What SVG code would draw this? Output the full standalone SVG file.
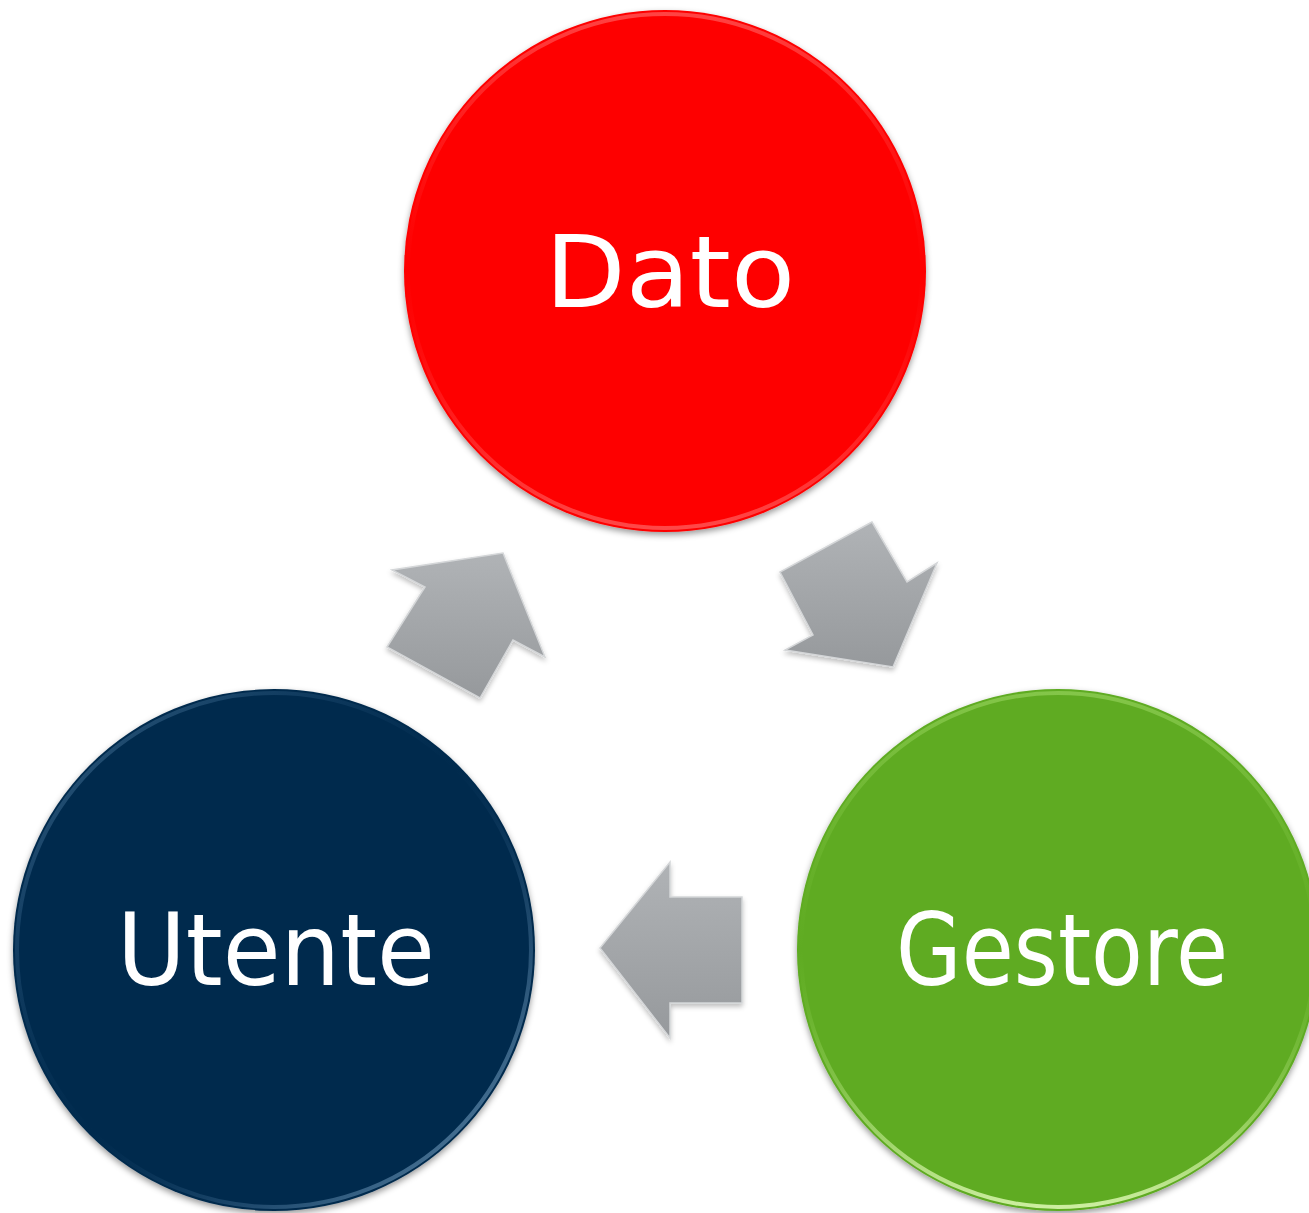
<svg xmlns="http://www.w3.org/2000/svg" width="1309" height="1213" viewBox="0 0 1309 1213">
<style>
.lbl{font-family:"DejaVu Sans","Verdana",sans-serif;font-size:100px;fill:#ffffff;text-anchor:middle}
.arrow{fill:url(#gray);stroke:#d4d6d8;stroke-width:1.5;stroke-linejoin:miter;filter:url(#ashadow)}
.rim{fill:none;stroke-width:4}
</style>
<defs>
<linearGradient id="gray" x1="0" y1="0" x2="0" y2="1">
<stop offset="0" stop-color="#b0b3b6"/>
<stop offset="1" stop-color="#96999c"/>
</linearGradient>
<filter id="shadow" x="-10%" y="-10%" width="120%" height="125%">
<feGaussianBlur in="SourceAlpha" stdDeviation="3"/>
<feOffset dx="0" dy="3" result="b"/>
<feFlood flood-color="#000" flood-opacity="0.4"/>
<feComposite in2="b" operator="in"/>
<feMerge><feMergeNode/><feMergeNode in="SourceGraphic"/></feMerge>
</filter>
<filter id="ashadow" x="-20%" y="-20%" width="140%" height="140%">
<feGaussianBlur in="SourceAlpha" stdDeviation="2.5"/>
<feOffset dx="0" dy="3" result="b"/>
<feFlood flood-color="#000" flood-opacity="0.25"/>
<feComposite in2="b" operator="in"/>
<feMerge><feMergeNode/><feMergeNode in="SourceGraphic"/></feMerge>
</filter>
<linearGradient id="rimRed" x1="0" y1="0" x2="0" y2="1">
<stop offset="0" stop-color="#ff7070" stop-opacity="0.6"/>
<stop offset="0.5" stop-color="#ff3030" stop-opacity="0"/>
<stop offset="1" stop-color="#ff9090" stop-opacity="0.5"/>
</linearGradient>
<linearGradient id="rimBlue" x1="0" y1="0" x2="1" y2="1">
<stop offset="0" stop-color="#6f9cc0" stop-opacity="0.5"/>
<stop offset="0.5" stop-color="#2a5a85" stop-opacity="0"/>
<stop offset="1" stop-color="#a8d0ee" stop-opacity="0.7"/>
</linearGradient>
<linearGradient id="rimGreen" x1="0" y1="0" x2="0" y2="1">
<stop offset="0" stop-color="#a8e070" stop-opacity="0.5"/>
<stop offset="0.5" stop-color="#80c840" stop-opacity="0"/>
<stop offset="1" stop-color="#e8ffc0" stop-opacity="0.8"/>
</linearGradient>
</defs>

<g id="node-dato">
<circle cx="665" cy="271" r="261" fill="#fe0000" filter="url(#shadow)"/>
<circle class="rim" cx="665" cy="271" r="257" stroke="url(#rimRed)"/>
<text class="lbl" x="670" y="307" textLength="250" lengthAdjust="spacingAndGlyphs">Dato</text>
</g>

<g id="node-utente">
<circle cx="274" cy="950" r="261" fill="#022c4e" filter="url(#shadow)"/>
<circle class="rim" cx="274" cy="950" r="257" stroke="url(#rimBlue)"/>
<text class="lbl" x="276" y="985" textLength="318" lengthAdjust="spacingAndGlyphs">Utente</text>
</g>

<g id="node-gestore">
<circle cx="1058" cy="950" r="261" fill="#5fab24" filter="url(#shadow)"/>
<circle class="rim" cx="1058" cy="950" r="257" stroke="url(#rimGreen)"/>
<text class="lbl" x="1062" y="985" textLength="332" lengthAdjust="spacingAndGlyphs">Gestore</text>
</g>

<g id="connectors">
<polygon class="arrow" points="387,647 425,587 392,570 503,553 545,657 513,640 480,698"/>
<polygon class="arrow" points="872,522 780,572 813,635 785,650 893,667 937,563 907,582"/>
<polygon class="arrow" points="600,948 670,862 670,897 742,897 742,1003 670,1003 670,1038"/>
</g>
</svg>
